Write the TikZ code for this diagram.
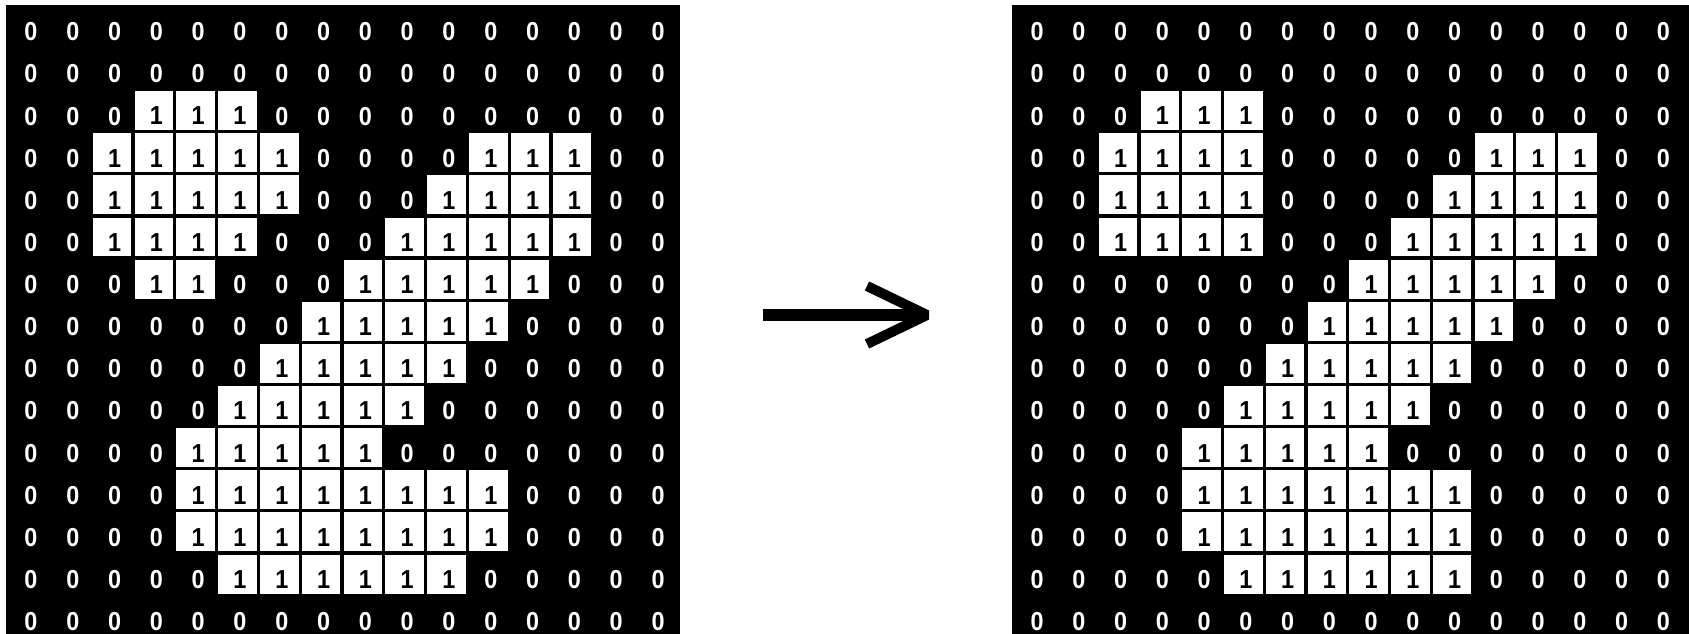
\documentclass[tikz,border=0pt]{standalone}
\usepackage{fontspec}
\setmainfont{Liberation Sans}
\newfontfamily\digitfont{Liberation Sans}[FakeStretch=0.9, BoldFont={* Bold}]
\tikzset{
  bgbox/.style={fill=black, draw=none},
  onecell/.style={fill=white, draw=none},
  zerotxt/.style={text=white, font=\digitfont\bfseries\fontsize{26}{26}\selectfont, inner sep=0pt},
  onetxt/.style={text=black, font=\digitfont\bfseries\fontsize{26}{26}\selectfont, inner sep=0pt},
  shaft/.style={draw=black, line width=12pt},
  headline/.style={draw=black, line width=10pt, line join=bevel},
}
\newcommand{\bingrid}[4]{%
  \foreach \rowdata [count=\r from 0] in {#4} {
    \foreach \v [count=\c from 0] in \rowdata {
      \pgfmathsetmacro{\cx}{#2+(\c+0.5)*#3}
      \pgfmathsetmacro{\cy}{5.2+(\r+0.5)*42.14}
      \ifnum\v=1
        \fill[onecell] (\cx-#3/2+1.6,\cy-21.07+1.6) rectangle (\cx+#3/2-1.6,\cy+21.07-1.6);
        \node[onetxt] (#1-\r-\c) at (\cx+2.5,\cy+5.5) {1};
      \else
        \node[zerotxt] (#1-\r-\c) at (\cx+2.5,\cy+5.5) {0};
      \fi
    }
  }
}
\begin{document}
\begin{tikzpicture}[x=1pt,y=-1pt]
\useasboundingbox (0,0) rectangle (1689,634);
\fill[bgbox] (6,5) rectangle (680,634);
\fill[bgbox] (1012,5) rectangle (1689,634);
\bingrid{L}{7.6}{41.8}{
 {0,0,0,0,0,0,0,0,0,0,0,0,0,0,0,0},
 {0,0,0,0,0,0,0,0,0,0,0,0,0,0,0,0},
 {0,0,0,1,1,1,0,0,0,0,0,0,0,0,0,0},
 {0,0,1,1,1,1,1,0,0,0,0,1,1,1,0,0},
 {0,0,1,1,1,1,1,0,0,0,1,1,1,1,0,0},
 {0,0,1,1,1,1,0,0,0,1,1,1,1,1,0,0},
 {0,0,0,1,1,0,0,0,1,1,1,1,1,0,0,0},
 {0,0,0,0,0,0,0,1,1,1,1,1,0,0,0,0},
 {0,0,0,0,0,0,1,1,1,1,1,0,0,0,0,0},
 {0,0,0,0,0,1,1,1,1,1,0,0,0,0,0,0},
 {0,0,0,0,1,1,1,1,1,0,0,0,0,0,0,0},
 {0,0,0,0,1,1,1,1,1,1,1,1,0,0,0,0},
 {0,0,0,0,1,1,1,1,1,1,1,1,0,0,0,0},
 {0,0,0,0,0,1,1,1,1,1,1,0,0,0,0,0},
 {0,0,0,0,0,0,0,0,0,0,0,0,0,0,0,0}}
\bingrid{R}{1013.7}{41.75}{
 {0,0,0,0,0,0,0,0,0,0,0,0,0,0,0,0},
 {0,0,0,0,0,0,0,0,0,0,0,0,0,0,0,0},
 {0,0,0,1,1,1,0,0,0,0,0,0,0,0,0,0},
 {0,0,1,1,1,1,0,0,0,0,0,1,1,1,0,0},
 {0,0,1,1,1,1,0,0,0,0,1,1,1,1,0,0},
 {0,0,1,1,1,1,0,0,0,1,1,1,1,1,0,0},
 {0,0,0,0,0,0,0,0,1,1,1,1,1,0,0,0},
 {0,0,0,0,0,0,0,1,1,1,1,1,0,0,0,0},
 {0,0,0,0,0,0,1,1,1,1,1,0,0,0,0,0},
 {0,0,0,0,0,1,1,1,1,1,0,0,0,0,0,0},
 {0,0,0,0,1,1,1,1,1,0,0,0,0,0,0,0},
 {0,0,0,0,1,1,1,1,1,1,1,0,0,0,0,0},
 {0,0,0,0,1,1,1,1,1,1,1,0,0,0,0,0},
 {0,0,0,0,0,1,1,1,1,1,1,0,0,0,0,0},
 {0,0,0,0,0,0,0,0,0,0,0,0,0,0,0,0}}
\coordinate (arrowstart) at (763,315);
\coordinate (arrowtip) at (927,315);
\draw[shaft] (arrowstart) -- ([xshift=-4pt]arrowtip);
\draw[headline] ([shift={(-60,-29)}]arrowtip) -- (arrowtip) -- ([shift={(-60,29)}]arrowtip);
\end{tikzpicture}
\end{document}
